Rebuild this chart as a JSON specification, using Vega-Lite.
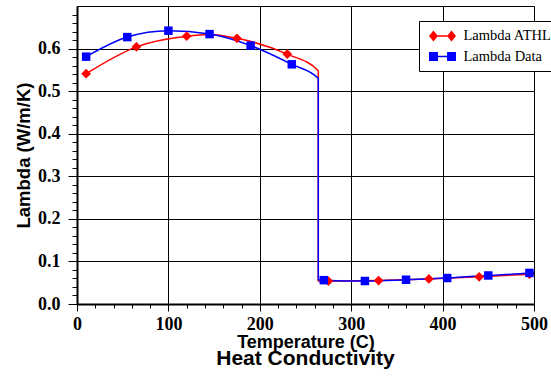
{
  "$schema": "https://vega.github.io/schema/vega-lite/v6.json",
  "autosize": "none",
  "width": 457,
  "height": 298,
  "padding": {"left": 77, "top": 6, "right": 17, "bottom": 75},
  "background": "white",
  "title": {
    "text": "Heat Conductivity",
    "orient": "bottom",
    "anchor": "middle",
    "font": "Liberation Sans",
    "fontSize": 21,
    "fontWeight": "bold",
    "color": "black",
    "offset": -3
  },
  "datasets": {
    "curve": [
      {"series": "Lambda ATHL", "t": 10, "lambda": 0.541},
      {"series": "Lambda ATHL", "t": 65, "lambda": 0.604},
      {"series": "Lambda ATHL", "t": 120, "lambda": 0.629},
      {"series": "Lambda ATHL", "t": 145, "lambda": 0.633},
      {"series": "Lambda ATHL", "t": 175, "lambda": 0.624},
      {"series": "Lambda ATHL", "t": 230, "lambda": 0.587},
      {"series": "Lambda ATHL", "t": 264, "lambda": 0.548},
      {"series": "Lambda ATHL", "t": 264, "lambda": 0.054},
      {"series": "Lambda ATHL", "t": 275, "lambda": 0.054},
      {"series": "Lambda ATHL", "t": 330, "lambda": 0.055},
      {"series": "Lambda ATHL", "t": 385, "lambda": 0.059},
      {"series": "Lambda ATHL", "t": 440, "lambda": 0.064},
      {"series": "Lambda ATHL", "t": 495, "lambda": 0.070},
      {"series": "Lambda ATHL", "t": 500, "lambda": 0.0705},
      {"series": "Lambda Data", "t": 10, "lambda": 0.581},
      {"series": "Lambda Data", "t": 55, "lambda": 0.627},
      {"series": "Lambda Data", "t": 100, "lambda": 0.642},
      {"series": "Lambda Data", "t": 145, "lambda": 0.634},
      {"series": "Lambda Data", "t": 190, "lambda": 0.607},
      {"series": "Lambda Data", "t": 235, "lambda": 0.563},
      {"series": "Lambda Data", "t": 264, "lambda": 0.530},
      {"series": "Lambda Data", "t": 264, "lambda": 0.057},
      {"series": "Lambda Data", "t": 270, "lambda": 0.056},
      {"series": "Lambda Data", "t": 315, "lambda": 0.054},
      {"series": "Lambda Data", "t": 360, "lambda": 0.057},
      {"series": "Lambda Data", "t": 405, "lambda": 0.061},
      {"series": "Lambda Data", "t": 450, "lambda": 0.067},
      {"series": "Lambda Data", "t": 495, "lambda": 0.073},
      {"series": "Lambda Data", "t": 500, "lambda": 0.074}
    ],
    "markers": [
      {"series": "Lambda ATHL", "t": 10, "lambda": 0.541},
      {"series": "Lambda ATHL", "t": 65, "lambda": 0.604},
      {"series": "Lambda ATHL", "t": 120, "lambda": 0.629},
      {"series": "Lambda ATHL", "t": 175, "lambda": 0.624},
      {"series": "Lambda ATHL", "t": 230, "lambda": 0.587},
      {"series": "Lambda ATHL", "t": 275, "lambda": 0.054},
      {"series": "Lambda ATHL", "t": 330, "lambda": 0.055},
      {"series": "Lambda ATHL", "t": 385, "lambda": 0.059},
      {"series": "Lambda ATHL", "t": 440, "lambda": 0.064},
      {"series": "Lambda ATHL", "t": 495, "lambda": 0.070},
      {"series": "Lambda Data", "t": 10, "lambda": 0.581},
      {"series": "Lambda Data", "t": 55, "lambda": 0.627},
      {"series": "Lambda Data", "t": 100, "lambda": 0.642},
      {"series": "Lambda Data", "t": 145, "lambda": 0.634},
      {"series": "Lambda Data", "t": 190, "lambda": 0.607},
      {"series": "Lambda Data", "t": 235, "lambda": 0.563},
      {"series": "Lambda Data", "t": 270, "lambda": 0.056},
      {"series": "Lambda Data", "t": 315, "lambda": 0.054},
      {"series": "Lambda Data", "t": 360, "lambda": 0.057},
      {"series": "Lambda Data", "t": 405, "lambda": 0.061},
      {"series": "Lambda Data", "t": 450, "lambda": 0.067},
      {"series": "Lambda Data", "t": 495, "lambda": 0.073}
    ]
  },
  "layer": [
    {
      "data": {"name": "curve"},
      "transform": [{"filter": "datum.series === 'Lambda ATHL'"}],
      "mark": {"type": "line", "interpolate": "monotone", "strokeWidth": 1.5, "color": "#ff0000"},
      "encoding": {
        "x": {
          "field": "t", "type": "quantitative",
          "scale": {"domain": [0, 500], "nice": false, "zero": false},
          "axis": {
            "orient": "bottom",
            "values": [0, 100, 200, 300, 400, 500],
            "tickSize": 7,
            "labelPadding": 4,
            "title": "Temperature (C)",
            "titlePadding": 0
          }
        },
        "y": {
          "field": "lambda", "type": "quantitative",
          "scale": {"domain": [0, 0.7], "nice": false, "zero": false},
          "axis": {
            "orient": "left",
            "values": [0, 0.1, 0.2, 0.3, 0.4, 0.5, 0.6],
            "tickSize": 9,
            "labelPadding": 8,
            "title": "Lambda (W/m/K)",
            "titleFontSize": 18.5,
            "titlePadding": 4
          }
        }
      }
    },
    {
      "data": {"name": "curve"},
      "transform": [{"filter": "datum.series === 'Lambda Data'"}],
      "mark": {"type": "line", "interpolate": "monotone", "strokeWidth": 1.5, "color": "#0000ff"},
      "encoding": {
        "x": {"field": "t", "type": "quantitative", "axis": null},
        "y": {"field": "lambda", "type": "quantitative", "axis": null}
      }
    },
    {
      "data": {"name": "markers"},
      "transform": [{"filter": "datum.series === 'Lambda ATHL'"}],
      "mark": {"type": "point", "shape": "diamond", "filled": true, "opacity": 1, "size": 95, "color": "#ff0000"},
      "encoding": {
        "x": {
          "field": "t", "type": "quantitative",
          "axis": {
            "orient": "bottom",
            "values": [20, 40, 60, 80, 120, 140, 160, 180, 220, 240, 260, 280, 320, 340, 360, 380, 420, 440, 460, 480],
            "tickSize": 4,
            "labels": false,
            "grid": false,
            "domain": false,
            "title": null
          }
        },
        "y": {
          "field": "lambda", "type": "quantitative",
          "axis": {
            "orient": "left",
            "values": [0.02, 0.04, 0.06, 0.08, 0.12, 0.14, 0.16, 0.18, 0.22, 0.24, 0.26, 0.28, 0.32, 0.34, 0.36, 0.38, 0.42, 0.44, 0.46, 0.48, 0.52, 0.54, 0.56, 0.58, 0.62, 0.64, 0.66, 0.68],
            "tickSize": 5,
            "labels": false,
            "grid": false,
            "domain": false,
            "title": null
          }
        }
      }
    },
    {
      "data": {"name": "markers"},
      "transform": [{"filter": "datum.series === 'Lambda Data'"}],
      "mark": {"type": "point", "shape": "square", "filled": true, "opacity": 1, "size": 72, "color": "#0000ff"},
      "encoding": {
        "x": {"field": "t", "type": "quantitative", "axis": null},
        "y": {"field": "lambda", "type": "quantitative", "axis": null}
      }
    },
    {
      "data": {"name": "markers"},
      "mark": {"type": "point", "filled": true, "opacity": 0},
      "encoding": {
        "x": {"field": "t", "type": "quantitative", "axis": null},
        "y": {"field": "lambda", "type": "quantitative", "axis": null},
        "color": {
          "field": "series", "type": "nominal",
          "scale": {"domain": ["Lambda ATHL", "Lambda Data"], "range": ["#ff0000", "#0000ff"]},
          "legend": {"title": null, "orient": "none", "legendX": 342, "legendY": 15}
        },
        "shape": {
          "field": "series", "type": "nominal",
          "scale": {
            "domain": ["Lambda ATHL", "Lambda Data"],
            "range": [
              "M-1.8,-0.115H1.8V0.115H-1.8ZM-1.93,0L-1.29,-0.77L-0.65,0L-1.29,0.77ZM0.65,0L1.29,-0.77L1.93,0L1.29,0.77Z",
              "M-1.8,-0.115H1.8V0.115H-1.8ZM-1.93,-0.64H-0.65V0.64H-1.93ZM0.65,-0.64H1.93V0.64H0.65Z"
            ]
          },
          "legend": {"title": null, "orient": "none", "legendX": 342, "legendY": 15}
        }
      }
    }
  ],
  "resolve": {"axis": {"x": "independent", "y": "independent"}},
  "config": {
    "view": {"stroke": "black", "strokeWidth": 1},
    "axis": {
      "domainColor": "black",
      "domainWidth": 2,
      "tickColor": "black",
      "tickWidth": 1,
      "grid": true,
      "gridColor": "black",
      "gridWidth": 1,
      "gridOpacity": 1,
      "labelFlush": false,
      "labelColor": "black",
      "labelFont": "Liberation Serif",
      "labelFontSize": 18,
      "labelFontWeight": "bold",
      "titleColor": "black",
      "titleFont": "Liberation Sans",
      "titleFontSize": 18,
      "titleFontWeight": "bold"
    },
    "legend": {
      "fillColor": "white",
      "strokeColor": "black",
      "strokeWidth": 1,
      "padding": 7,
      "rowPadding": 3.5,
      "symbolSize": 196,
      "symbolOffset": 8.5,
      "symbolOpacity": 1,
      "labelFont": "Liberation Serif",
      "labelFontSize": 14.5,
      "labelColor": "black",
      "labelOffset": 13,
      "labelLimit": 0,
      "cornerRadius": 0
    }
  }
}
